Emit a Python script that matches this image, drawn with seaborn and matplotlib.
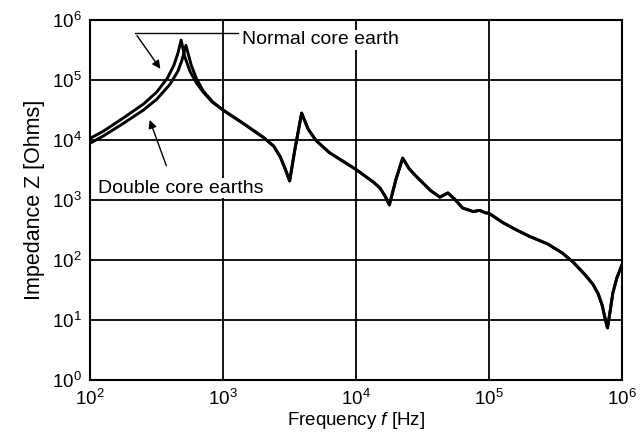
import numpy as np
import pandas as pd
import matplotlib
matplotlib.use("Agg")
import matplotlib.pyplot as plt
import seaborn as sns
from matplotlib.patches import FancyArrowPatch
from matplotlib.ticker import LogLocator, LogFormatterSciNotation, NullFormatter

# ---- data (log10 values) ----
# low-frequency part where the two curves differ
normal_low_logf = [2.00, 2.10, 2.25, 2.40, 2.50, 2.58, 2.63, 2.66, 2.684, 2.71, 2.75, 2.80, 2.85, 2.92]
normal_low_logz = [4.03, 4.15, 4.37, 4.60, 4.80, 5.03, 5.25, 5.45, 5.667, 5.40, 5.15, 4.95, 4.80, 4.63]
double_low_logf = [2.00, 2.10, 2.25, 2.40, 2.50, 2.60, 2.66, 2.69, 2.72, 2.76, 2.80, 2.85, 2.92]
double_low_logz = [3.95, 4.07, 4.28, 4.50, 4.68, 4.93, 5.15, 5.33, 5.58, 5.25, 5.02, 4.82, 4.64]
# shared high-frequency part
shared_logf = [3.00, 3.15, 3.30, 3.38, 3.43, 3.47, 3.50, 3.54, 3.59, 3.64, 3.70, 3.80, 3.90,
               4.00, 4.13, 4.18, 4.22, 4.25, 4.30, 4.35, 4.40, 4.45, 4.56, 4.63, 4.69, 4.74,
               4.80, 4.88, 4.93, 4.97, 5.00, 5.10, 5.20, 5.30, 5.44, 5.55, 5.63, 5.72,
               5.78, 5.82, 5.85, 5.87, 5.89, 5.91, 5.93, 5.96, 6.00]
shared_logz = [4.50, 4.28, 4.05, 3.90, 3.72, 3.50, 3.32, 3.85, 4.45, 4.18, 3.99, 3.79, 3.65,
               3.51, 3.30, 3.20, 3.06, 2.92, 3.35, 3.70, 3.52, 3.40, 3.16, 3.05, 3.12, 3.02,
               2.87, 2.81, 2.83, 2.79, 2.78, 2.63, 2.51, 2.40, 2.27, 2.12, 1.97, 1.76,
               1.60, 1.44, 1.25, 1.05, 0.87, 1.15, 1.45, 1.70, 1.93]
series_names = ["Normal core earth", "Double core earths"]

rows = []
for name, lf, lz in [(series_names[0], normal_low_logf, normal_low_logz),
                     (series_names[1], double_low_logf, double_low_logz)]:
    for a, b in zip(list(lf) + shared_logf, list(lz) + shared_logz):
        rows.append({"series": name, "f": 10 ** a, "Z": 10 ** b})
df = pd.DataFrame(rows)

sns.set_theme(style="white")
plt.rcParams["font.family"] = ["Liberation Sans", "DejaVu Sans"]
plt.rcParams["mathtext.fontset"] = "custom"
plt.rcParams["mathtext.rm"] = "Liberation Sans"
plt.rcParams["mathtext.it"] = "Liberation Sans:italic"

fig = plt.figure(figsize=(6.44, 4.37), dpi=100)
ax = fig.add_axes([0.140, 0.130, 0.826, 0.824])

sns.lineplot(data=df, x="f", y="Z", units="series", estimator=None, sort=False,
             color="black", linewidth=2.1, ax=ax, legend=False)

ax.set_xscale("log")
ax.set_yscale("log")
ax.set_xlim(1e2, 1e6)
ax.set_ylim(1e0, 1e6)

ax.xaxis.set_major_locator(LogLocator(base=10, numticks=10))
ax.yaxis.set_major_locator(LogLocator(base=10, numticks=10))
ax.xaxis.set_minor_locator(LogLocator(base=10, subs=np.arange(2, 10), numticks=20))
ax.yaxis.set_minor_locator(LogLocator(base=10, subs=np.arange(2, 10), numticks=20))
ax.xaxis.set_major_formatter(LogFormatterSciNotation())
ax.yaxis.set_major_formatter(LogFormatterSciNotation())
ax.xaxis.set_minor_formatter(NullFormatter())
ax.yaxis.set_minor_formatter(NullFormatter())

ax.grid(True, which="major", color="black", linewidth=1.3)
ax.grid(False, which="minor")
for s in ax.spines.values():
    s.set_color("black")
    s.set_linewidth(1.5)
ax.tick_params(which="both", direction="in", colors="black", labelsize=13.5)
ax.tick_params(which="major", length=0, pad=6)
ax.tick_params(which="minor", length=3, width=0.8)

ax.set_xlabel(r"Frequency $\it{f}$ [Hz]", fontsize=13.5, color="black", labelpad=1)
ax.set_ylabel("Impedance Z [Ohms]", fontsize=15.5, color="black", labelpad=5)

# annotations
ax.add_patch(FancyArrowPatch((10 ** 2.34, 10 ** 5.78), (10 ** 2.54, 10 ** 5.15),
                             arrowstyle="-|>", color="black", lw=1.0, mutation_scale=12))
ax.plot([10 ** 2.34, 10 ** 3.11], [10 ** 5.78, 10 ** 5.78], color="black", lw=1.0)
ax.text(10 ** 3.14, 10 ** 5.67, "Normal core earth", fontsize=14, va="center", ha="left",
        color="black", bbox=dict(facecolor="white", edgecolor="none", pad=1))
ax.add_patch(FancyArrowPatch((10 ** 2.58, 10 ** 3.53), (10 ** 2.44, 10 ** 4.38),
                             arrowstyle="-|>", color="black", lw=1.0, mutation_scale=12))
ax.text(10 ** 2.06, 10 ** 3.20, "Double core earths", fontsize=14, va="center", ha="left",
        color="black", bbox=dict(facecolor="white", edgecolor="none", pad=1))

fig.savefig("out.png", dpi=100, facecolor="white")
